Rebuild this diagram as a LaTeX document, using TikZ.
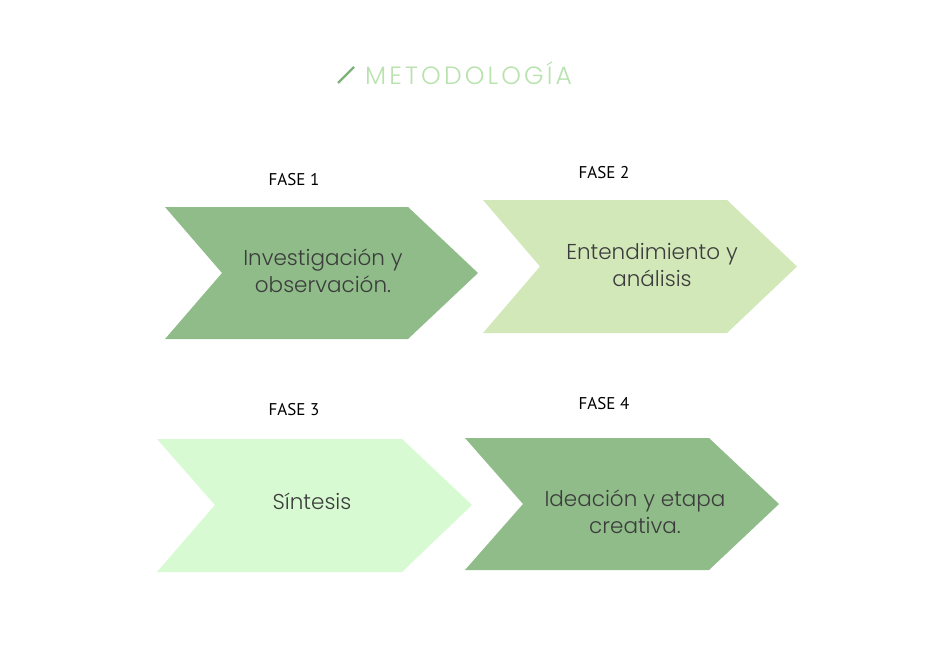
\documentclass[tikz,border=0pt]{standalone}
\usepackage{fontspec}
\setmainfont{Poppins Light}
\newfontfamily\fasefont{PT Sans}
\newfontfamily\titlefont[LetterSpace=12.5]{Poppins Light}
\definecolor{darkg}{HTML}{8FBC89}
\definecolor{midg}{HTML}{D2E8B9}
\definecolor{lightg}{HTML}{D8FAD2}
\definecolor{titleg}{HTML}{B8E2AE}
\definecolor{slashg}{HTML}{7FB07A}
\definecolor{txt}{HTML}{3C3C3C}
\tikzset{
  fase/.style={font=\fasefont\fontsize{17}{20}\selectfont, text=black, inner sep=0pt},
  chevtext/.style={font=\fontsize{21.5}{27}\selectfont, text=txt, align=center, inner sep=0pt},
}
\begin{document}
\begin{tikzpicture}[x=1pt,y=-1pt]
\useasboundingbox (0,0) rectangle (941,671);
\fill[white] (0,0) rectangle (941,671);
% title
\draw[slashg, line width=2.2pt] (338,83) -- (354,67);
\node[anchor=west, inner sep=0pt, text=titleg, font=\titlefont\fontsize{25}{27}\selectfont] (title) at (365,73) {METODOLOGÍA};
% chevrons
\fill[darkg] (165,207) -- (408,207) -- (478,273) -- (408,339) -- (165,339) -- (222,273) -- cycle;
\fill[midg] (483,200) -- (727,200) -- (797,266.5) -- (727,333) -- (483,333) -- (540,266.5) -- cycle;
\fill[lightg] (157,439) -- (402,439) -- (472,505) -- (402,572) -- (157,572) -- (215,505) -- cycle;
\fill[darkg] (465,438) -- (709,438) -- (779,504) -- (709,570) -- (465,570) -- (523,504) -- cycle;
% labels
\node[fase] (f1) at (294,180) {FASE 1};
\node[fase] (f2) at (604,173) {FASE 2};
\node[fase] (f3) at (294,410) {FASE 3};
\node[fase] (f4) at (604,404) {FASE 4};
\node[chevtext] (t1) at (323,271) {Investigación y\\observación.};
\node[chevtext] (t2) at (652,265) {Entendimiento y\\análisis};
\node[chevtext] (t3) at (312,501) {Síntesis};
\node[chevtext] (t4) at (635,512) {Ideación y etapa\\creativa.};
\end{tikzpicture}
\end{document}
